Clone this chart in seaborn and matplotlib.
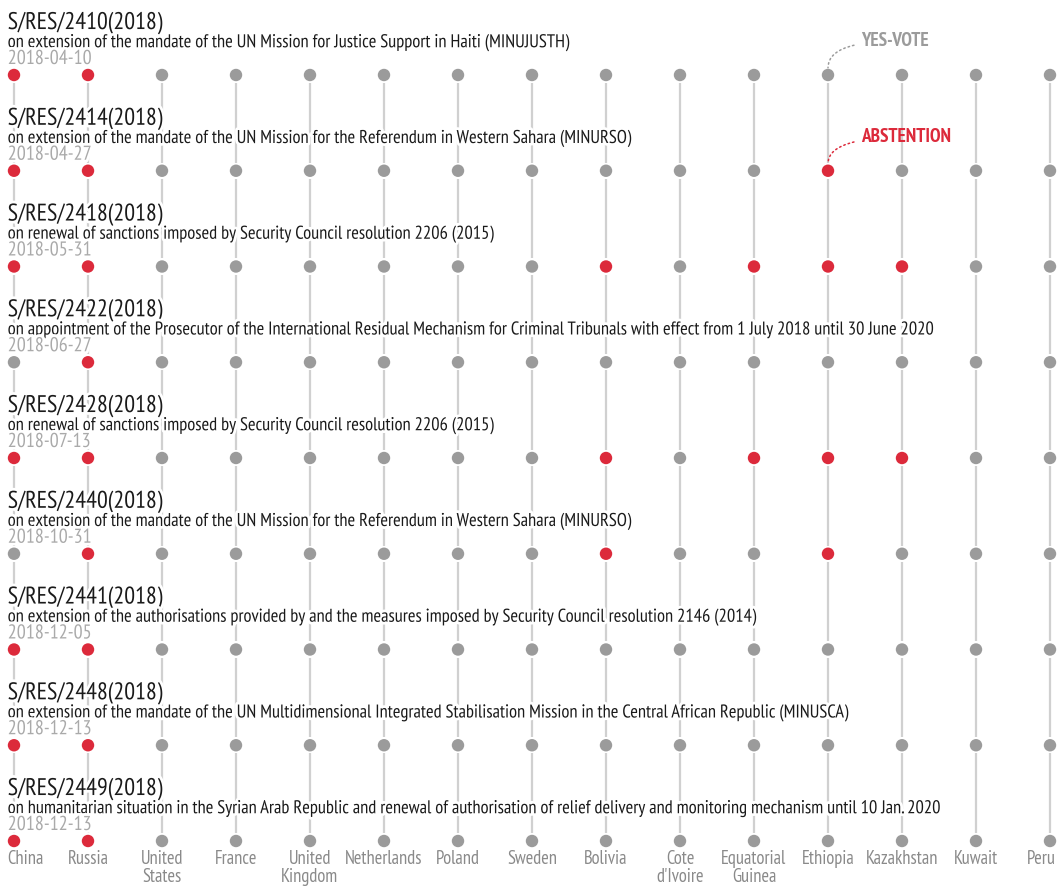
import numpy as np
import pandas as pd
import matplotlib.pyplot as plt
import matplotlib.patheffects as pe
from matplotlib import font_manager
import seaborn as sns

# Security Council members (columns)
countries = ['China', 'Russia', 'United\nStates', 'France', 'United\nKingdom', 'Netherlands',
             'Poland', 'Sweden', 'Bolivia', 'Cote\nd\'Ivoire', 'Equatorial\nGuinea',
             'Ethiopia', 'Kazakhstan', 'Kuwait', 'Peru']

# Resolutions (rows)
resolutions = ['S/RES/2410(2018)', 'S/RES/2414(2018)', 'S/RES/2418(2018)', 'S/RES/2422(2018)',
               'S/RES/2428(2018)', 'S/RES/2440(2018)', 'S/RES/2441(2018)', 'S/RES/2448(2018)',
               'S/RES/2449(2018)']
subjects = [
    'on extension of the mandate of the UN Mission for Justice Support in Haiti (MINUJUSTH)',
    'on extension of the mandate of the UN Mission for the Referendum in Western Sahara (MINURSO)',
    'on renewal of sanctions imposed by Security Council resolution 2206 (2015)',
    'on appointment of the Prosecutor of the International Residual Mechanism for Criminal Tribunals with effect from 1 July 2018 until 30 June 2020',
    'on renewal of sanctions imposed by Security Council resolution 2206 (2015)',
    'on extension of the mandate of the UN Mission for the Referendum in Western Sahara (MINURSO)',
    'on extension of the authorisations provided by and the measures imposed by Security Council resolution 2146 (2014)',
    'on extension of the mandate of the UN Multidimensional Integrated Stabilisation Mission in the Central African Republic (MINUSCA)',
    'on humanitarian situation in the Syrian Arab Republic and renewal of authorisation of relief delivery and monitoring mechanism until 10 Jan. 2020',
]
dates = ['2018-04-10', '2018-04-27', '2018-05-31', '2018-06-27', '2018-07-13',
         '2018-10-31', '2018-12-05', '2018-12-13', '2018-12-13']

# abstaining members per resolution (everyone else voted yes)
abstentions = [
    ['China', 'Russia'],
    ['China', 'Russia', 'Ethiopia'],
    ['China', 'Russia', 'Bolivia', 'Equatorial\nGuinea', 'Ethiopia', 'Kazakhstan'],
    ['Russia'],
    ['China', 'Russia', 'Bolivia', 'Equatorial\nGuinea', 'Ethiopia', 'Kazakhstan'],
    ['Russia', 'Bolivia', 'Ethiopia'],
    ['China', 'Russia'],
    ['China', 'Russia'],
    ['China', 'Russia'],
]

RED = '#dc2a3b'
GRAY = '#9b9b9b'
LINE = '#d0d0d0'

rows = []
for j, res in enumerate(resolutions):
    for i, c in enumerate(countries):
        rows.append({'col': i, 'row': j, 'vote': 'ABSTENTION' if c in abstentions[j] else 'YES-VOTE'})
df = pd.DataFrame(rows)

sns.set_style('white')

# pick a narrow face if one is installed
installed = {f.name for f in font_manager.fontManager.ttflist}
family = 'Roboto'
for cand in ['PT Sans Narrow', 'Roboto Condensed', 'Liberation Sans Narrow', 'Open Sans Condensed',
             'Noto Sans Display', 'Roboto']:
    if cand in installed:
        family = cand
        break
plt.rcParams['font.family'] = [family, 'DejaVu Sans']

fig = plt.figure(figsize=(10.63, 8.86), dpi=100)
ax = fig.add_axes([0, 0, 1, 1])
ax.set_xlim(-14 / 74, (1063 - 14) / 74)
ax.set_ylim((886 - 75) / 95.75, -75 / 95.75)
ax.axis('off')
renderer = fig.canvas.get_renderer()


def fit_size(text, target_px, weight='normal'):
    # font size that gives the text the width seen in the reference
    t = fig.text(0, 0, text, fontsize=10, fontweight=weight)
    w = t.get_window_extent(renderer).width
    t.remove()
    return 10 * target_px / w


title_fs = fit_size(resolutions[0], 155)
subj_fs = fit_size(subjects[3], 930)
date_fs = fit_size(dates[0], 84)
country_fs = fit_size('Netherlands', 78)
yes_fs = fit_size('YES-VOTE', 68, 'bold')

# connecting lines between consecutive resolutions
gap = 0.085
for i in range(len(countries)):
    ax.vlines([i] * (len(resolutions) - 1),
              np.arange(len(resolutions) - 1) + gap,
              np.arange(1, len(resolutions)) - gap,
              color=LINE, lw=1.6, zorder=1)

left = -0.085
halo = [pe.withStroke(linewidth=4, foreground='white')]
for j in range(len(resolutions)):
    ax.text(left, j - 0.48, resolutions[j], fontsize=title_fs, color='#1a1a1a',
            va='baseline', ha='left', zorder=2, path_effects=halo)
    ax.text(left, j - 0.29, subjects[j], fontsize=subj_fs, color='#1a1a1a',
            va='baseline', ha='left', zorder=2, path_effects=halo)
    ax.text(left, j - 0.115, dates[j], fontsize=date_fs, color='#aaaaaa',
            va='baseline', ha='left', zorder=2, path_effects=halo)

sns.scatterplot(data=df, x='col', y='row', hue='vote',
                palette={'ABSTENTION': RED, 'YES-VOTE': GRAY},
                s=80, linewidth=0, legend=False, ax=ax, zorder=3)

# country names under the last row; the outer two are kept inside the frame
n = len(countries)
for i, c in enumerate(countries):
    x, ha = i, 'center'
    if i == 0:
        x, ha = left, 'left'
    elif i == n - 1:
        x, ha = n - 1 + 0.08, 'right'
    ax.text(x, len(resolutions) - 1 + 0.09, c, fontsize=country_fs, color='#8a8a8a',
            ha=ha, va='top', linespacing=1.0)

# legend annotations on Ethiopia column
eth = countries.index('Ethiopia')
for label, row, col in [('YES-VOTE', 0, GRAY), ('ABSTENTION', 1, RED)]:
    ax.annotate(label, xy=(eth, row - 0.075), xytext=(eth + 0.45, row - 0.35),
                fontsize=yes_fs, fontweight='bold', color=col, va='center', ha='left',
                arrowprops=dict(arrowstyle='-', color=col, ls=(0, (1, 2)), lw=1.1,
                                connectionstyle='angle3,angleA=0,angleB=90',
                                shrinkA=3, shrinkB=0))

fig.savefig('out.png', dpi=100)
